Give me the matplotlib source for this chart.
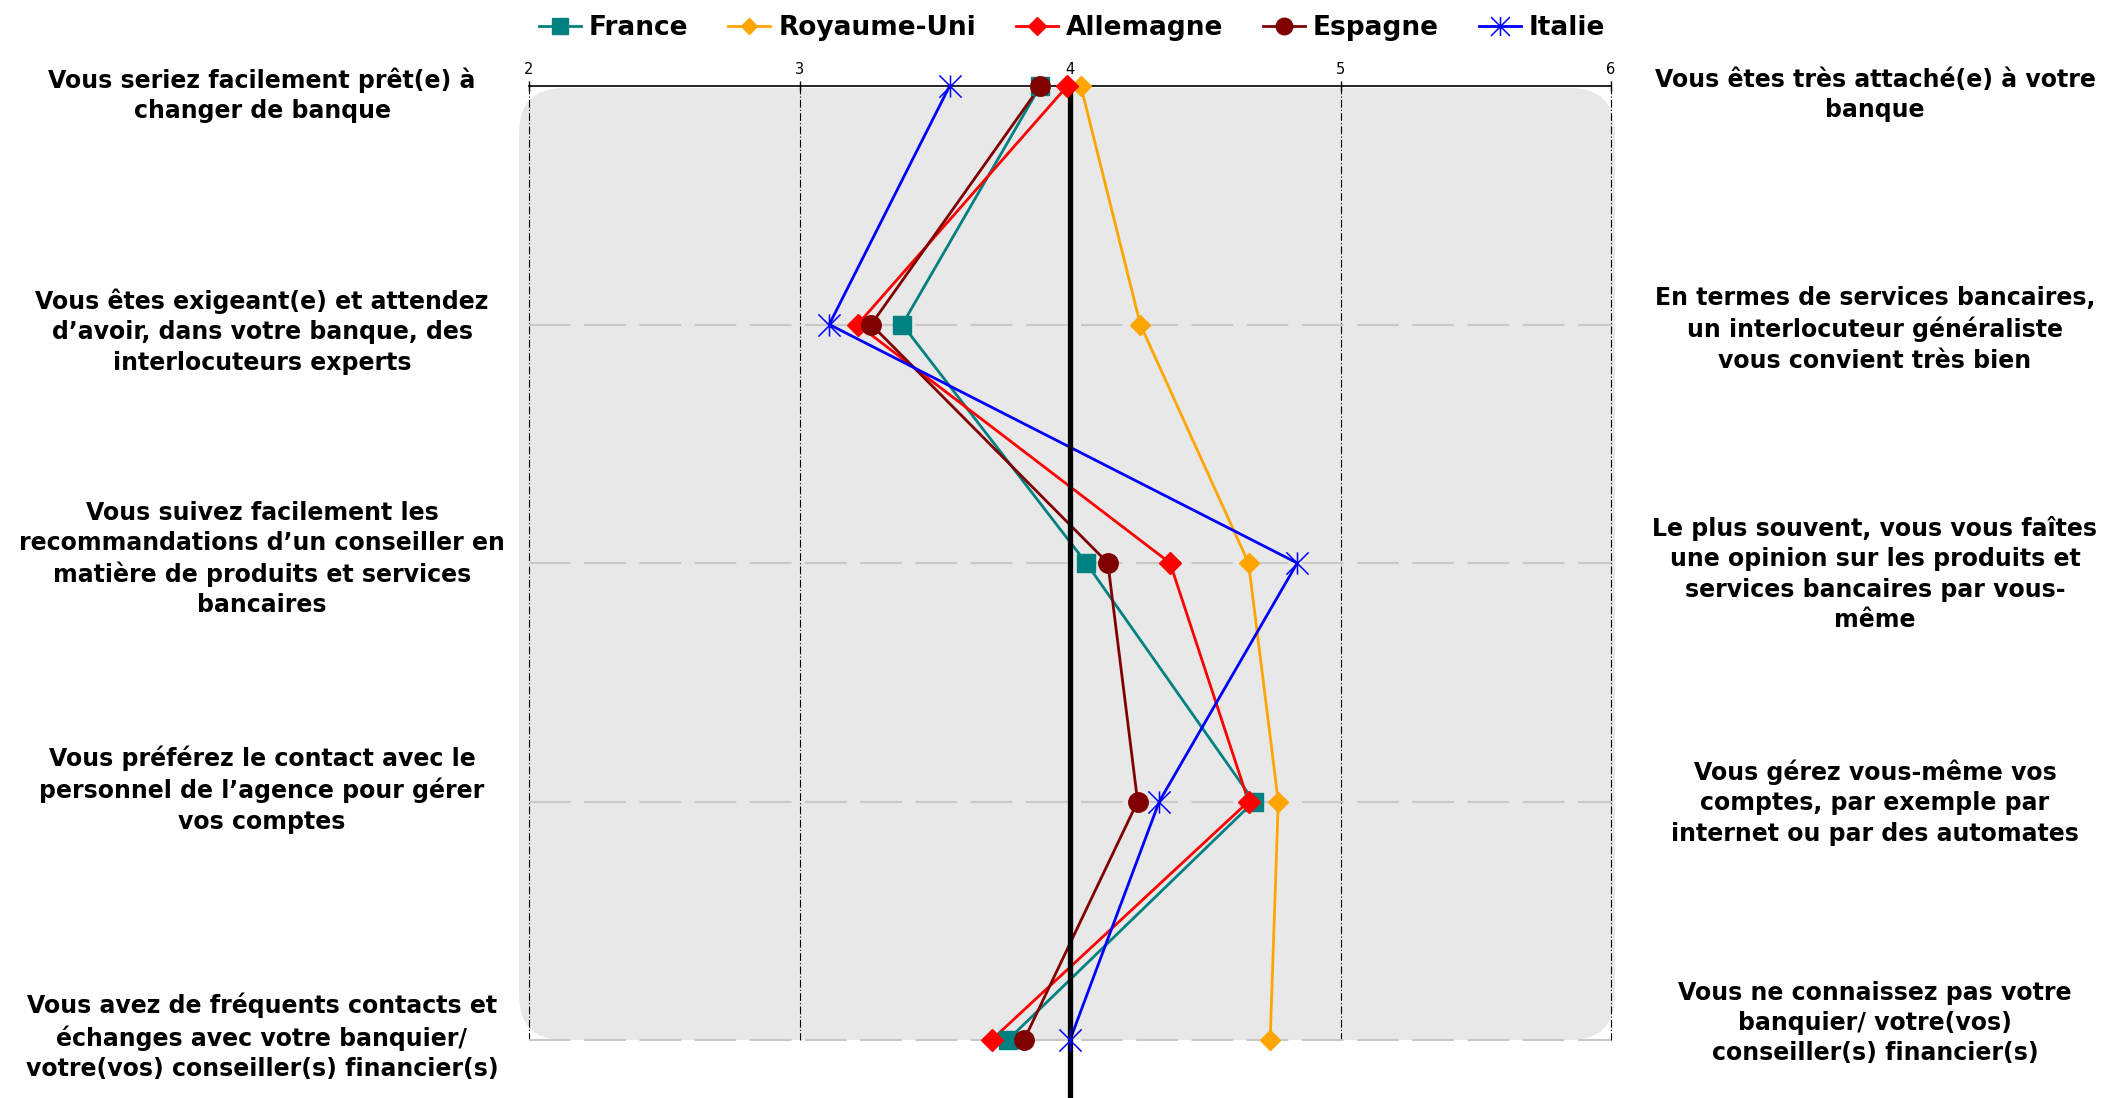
import matplotlib
matplotlib.use("Agg")
import matplotlib.pyplot as plt
from matplotlib.lines import Line2D
from matplotlib.patches import FancyBboxPatch
from matplotlib.path import Path

# ---------------- data ----------------
rows = [0, 1, 2, 3, 4]
left_labels = [
    "Vous seriez facilement prêt(e) à\nchanger de banque",
    "Vous êtes exigeant(e) et attendez\nd’avoir, dans votre banque, des\ninterlocuteurs experts",
    "Vous suivez facilement les\nrecommandations d’un conseiller en\nmatière de produits et services\nbancaires",
    "Vous préférez le contact avec le\npersonnel de l’agence pour gérer\nvos comptes",
    "Vous avez de fréquents contacts et\néchanges avec votre banquier/\nvotre(vos) conseiller(s) financier(s)",
]
right_labels = [
    "Vous êtes très attaché(e) à votre\nbanque",
    "En termes de services bancaires,\nun interlocuteur généraliste\nvous convient très bien",
    "Le plus souvent, vous vous faîtes\nune opinion sur les produits et\nservices bancaires par vous-\nmême",
    "Vous gérez vous-même vos\ncomptes, par exemple par\ninternet ou par des automates",
    "Vous ne connaissez pas votre\nbanquier/ votre(vos)\nconseiller(s) financier(s)",
]
x_ticks = [2, 3, 4, 5, 6]
mid_value = 4

france = [3.89, 3.38, 4.06, 4.68, 3.77]
royaume_uni = [4.04, 4.26, 4.66, 4.77, 4.74]
allemagne = [3.99, 3.215, 4.37, 4.66, 3.71]
espagne = [3.89, 3.265, 4.14, 4.25, 3.83]
italie = [3.555, 3.11, 4.84, 4.33, 4.0]

series_names = ["France", "Royaume-Uni", "Allemagne", "Espagne", "Italie"]
series_values = [france, royaume_uni, allemagne, espagne, italie]

# ---------------- styles / layout ----------------
star = Path([(-1, -1), (1, 1), (-1, 1), (1, -1), (0, -1), (0, 1)],
            [Path.MOVETO, Path.LINETO, Path.MOVETO, Path.LINETO, Path.MOVETO, Path.LINETO])
styles = [
    dict(color="#008080", marker="s", ms=13, mfc="#008080", mec="#008080", mew=1),
    dict(color="#FFA500", marker="D", ms=10, mfc="#FFA500", mec="#FFA500", mew=1),
    dict(color="#FF0000", marker="D", ms=11, mfc="#FF0000", mec="#FF0000", mew=1),
    dict(color="#800000", marker="o", ms=14, mfc="#800000", mec="#800000", mew=1),
    dict(color="#0000FF", marker=star, ms=16, mfc="none", mec="#0000FF", mew=1.1),
]
# vertical nudges of the side texts, in pixels (positive = down)
left_nudge_px = [9, 7, -4, -12, -3]
right_nudge_px = [9, 5, 11, 1, -17]

W, H = 2105, 1098
fig = plt.figure(figsize=(W / 100, H / 100), dpi=100)
ax_l, ax_r = 529 / W, 1611 / W
ax_t, ax_b = 1 - 86 / H, 1 - 1040 / H
ax = fig.add_axes([ax_l, ax_b, ax_r - ax_l, ax_t - ax_b])
ax.set_xlim(2, 6)
ax.set_ylim(4, 0)
ax.set_facecolor("none")

wpx = (ax_r - ax_l) * W
hpx = (ax_t - ax_b) * H

# rounded grey background
r_px = 45
bg = FancyBboxPatch((-10 / wpx, 0), 1 + 14 / wpx, 1 - 2 / hpx,
                    boxstyle=f"round,pad=0,rounding_size={r_px / wpx}",
                    mutation_aspect=wpx / hpx,
                    transform=ax.transAxes, facecolor="#E8E8E8", edgecolor="none",
                    zorder=0, clip_on=False)
ax.add_patch(bg)

# grid lines
for xv in x_ticks:
    ax.plot([xv, xv], [0, 4], color="black", lw=0.8, ls=(0, (7, 2, 1, 2)),
            zorder=0.5, clip_on=False)
for r in rows[1:]:
    ax.plot([2, 6], [r, r], color="#C8C8C8", lw=1.5, ls=(0, (20, 6.5)),
            zorder=0.6, clip_on=False)

# series lines
for vals, st in zip(series_values, styles):
    ax.plot(vals, rows, color=st["color"], lw=2, zorder=2, clip_on=False)

# central reference line
ax.plot([mid_value, mid_value], [0, 4.6], color="black", lw=3.8, zorder=2.5,
        clip_on=False, solid_capstyle="butt")

# markers
for vals, st in zip(series_values, styles):
    ax.plot(vals, rows, ls="none", marker=st["marker"], ms=st["ms"],
            mfc=st["mfc"], mec=st["mec"], mew=st["mew"], zorder=3, clip_on=False)

# axes styling
for s in ["left", "right", "bottom"]:
    ax.spines[s].set_visible(False)
ax.spines["top"].set_linewidth(1.2)
ax.spines["top"].set_zorder(1)
ax.xaxis.tick_top()
ax.set_xticks(x_ticks)
ax.set_xticklabels([str(t) for t in x_ticks])
ax.tick_params(axis="x", direction="inout", length=7, width=1, labelsize=10.5, pad=3)
ax.set_yticks([])

# side labels
lab_font = dict(family="DejaVu Sans", weight="bold", fontsize=17, linespacing=1.33)
for r, txt, dn in zip(rows, left_labels, left_nudge_px):
    ax.text((262 - 529) / wpx, 1 - r / 4 - dn / hpx, txt, transform=ax.transAxes,
            ha="center", va="center", **lab_font)
for r, txt, dn in zip(rows, right_labels, right_nudge_px):
    ax.text((1875 - 529) / wpx, 1 - r / 4 - dn / hpx, txt, transform=ax.transAxes,
            ha="center", va="center", **lab_font)

# legend
handles = [Line2D([0], [0], color=st["color"], lw=2, marker=st["marker"],
                  ms=st["ms"] * 0.85, mfc=st["mfc"], mec=st["mec"], mew=st["mew"])
           for st in styles]
fig.legend(handles, series_names, loc="center", bbox_to_anchor=(1072 / W, 1 - 28 / H),
           ncol=5, frameon=False, handlelength=1.6, handletextpad=0.3,
           columnspacing=1.5, prop=dict(family="DejaVu Sans", weight="bold", size=19))

fig.savefig("out.png", dpi=100)
